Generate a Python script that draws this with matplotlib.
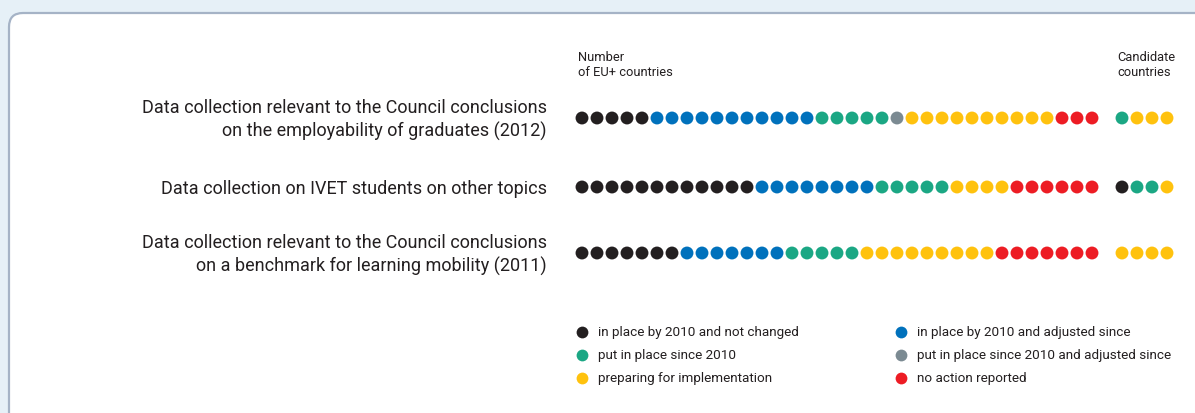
import matplotlib.pyplot as plt
from matplotlib.patches import FancyBboxPatch

# categories
categories = [
    "Data collection relevant to the Council conclusions\non the employability of graduates (2012)",
    "Data collection on IVET students on other topics",
    "Data collection relevant to the Council conclusions\non a benchmark for learning mobility (2011)",
]
status_labels = [
    "in place by 2010 and not changed",
    "in place by 2010 and adjusted since",
    "put in place since 2010",
    "put in place since 2010 and adjusted since",
    "preparing for implementation",
    "no action reported",
]
status_colors = ["#231f20", "#0071bc", "#1ba784", "#7b8a92", "#ffc20e", "#ed1c24"]

# number of EU+ countries per status (order as status_labels)
eu_counts = [
    [5, 11, 5, 1, 10, 3],
    [12, 8, 5, 0, 4, 6],
    [7, 7, 5, 0, 9, 7],
]
# candidate countries per status
cand_counts = [
    [0, 0, 1, 0, 3, 0],
    [1, 0, 2, 0, 1, 0],
    [0, 0, 0, 0, 4, 0],
]

plt.rcParams['font.family'] = ['Roboto', 'DejaVu Sans']

W, H = 1195, 414
fig = plt.figure(figsize=(W / 100, H / 100), dpi=100)
fig.patch.set_facecolor("#e6f0f7")
ax = fig.add_axes([0, 0, 1, 1])
ax.set_xlim(0, W)
ax.set_ylim(H, 0)
ax.axis("off")

# white rounded panel
ax.add_patch(FancyBboxPatch((9, 14), W + 40, H + 40, boxstyle="round,pad=0,rounding_size=14",
                            facecolor="white", edgecolor="#a5b3c6", linewidth=1.6))

x0, step = 582, 15
row_y = [119, 188, 254]
dot_s = 86

for r, label in enumerate(categories):
    y = row_y[r]
    seq = []
    for k, n in enumerate(eu_counts[r]):
        seq += [status_colors[k]] * n
    cseq = []
    for k, n in enumerate(cand_counts[r]):
        cseq += [status_colors[k]] * n
    xs = [x0 + step * i for i in range(len(seq))]
    cxs = [x0 + step * (len(seq) + 1 + i) for i in range(len(cseq))]
    ax.scatter(xs, [y] * len(xs), s=dot_s, c=seq, linewidths=0)
    ax.scatter(cxs, [y] * len(cxs), s=dot_s, c=cseq, linewidths=0)
    ax.text(547, y + 1, label, ha="right", va="center", fontsize=13, color="#231f20",
            linespacing=1.38)

ax.text(578, 65, "Number\nof EU+ countries", ha="left", va="center", fontsize=9.3,
        color="#231f20", linespacing=1.25)
ax.text(1117, 65, "Candidate\ncountries", ha="left", va="center", fontsize=9.3,
        color="#231f20", linespacing=1.25)

# legend
leg_x = [582, 901]
leg_y = [333, 356, 379]
for k, lab in enumerate(status_labels):
    col, row = k % 2, k // 2
    ax.scatter([leg_x[col]], [leg_y[row]], s=72, c=status_colors[k], linewidths=0)
    ax.text(leg_x[col] + 16, leg_y[row], lab, ha="left", va="center", fontsize=9.7,
            color="#231f20")

fig.savefig("out.png", dpi=100, facecolor=fig.get_facecolor())
